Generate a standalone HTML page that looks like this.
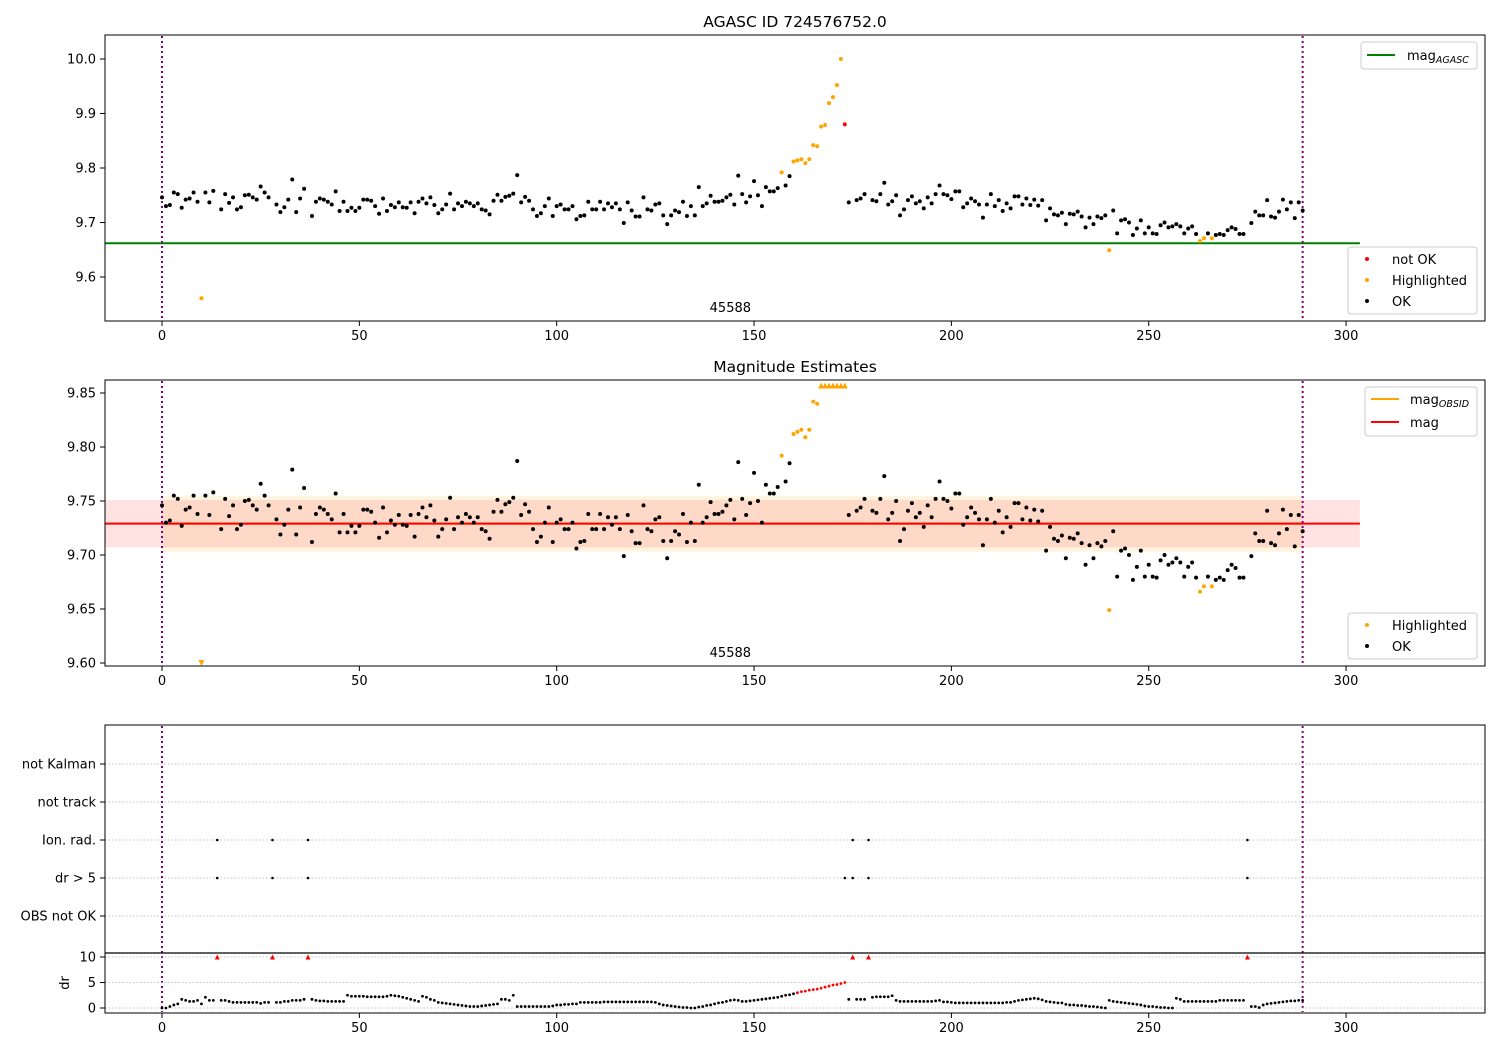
<!DOCTYPE html>
<html><head><meta charset="utf-8"><style>
html,body{margin:0;padding:0;background:#fff;}
svg{display:block;font-family:"DejaVu Sans","Liberation Sans",sans-serif;}
</style></head><body>
<svg id="fig" width="1500" height="1050" viewBox="0 0 1500 1050" xmlns="http://www.w3.org/2000/svg"></svg>
<script>
// ---------- DATA ----------
const mag = [9.746,9.730,9.732,9.755,9.752,9.727,9.742,9.744,9.755,9.738,
9.561,9.755,9.737,9.758,null,9.724,9.752,9.736,9.746,9.724,
9.728,9.750,9.751,9.746,9.742,9.766,9.755,9.746,null,9.733,
9.719,9.728,9.742,9.779,9.719,9.744,9.762,null,9.712,9.738,
9.744,9.742,9.738,9.733,9.757,9.721,9.738,9.721,9.727,9.721,
9.727,9.742,9.742,9.740,9.730,9.716,9.744,9.721,9.732,9.728,
9.737,9.728,9.727,9.737,9.717,9.738,9.744,9.735,9.746,9.732,
9.717,9.724,9.733,9.753,9.724,9.735,9.730,9.738,9.735,9.730,
9.735,9.724,9.722,9.715,9.740,9.751,9.740,9.747,9.749,9.753,
9.787,9.737,9.747,9.740,9.724,9.712,9.717,9.730,9.744,9.712,
9.730,9.733,9.724,9.724,9.730,9.706,9.712,9.713,9.738,9.724,
9.724,9.738,9.724,9.735,9.728,9.735,9.724,9.699,9.737,9.722,
9.711,9.711,9.746,9.724,9.722,9.733,9.735,9.713,9.697,9.713,
9.722,9.719,9.738,9.712,9.730,9.713,9.765,9.730,9.735,9.749,
9.738,9.738,9.740,9.746,9.751,9.733,9.786,9.752,9.737,9.748,
9.776,9.750,9.730,9.765,9.757,9.757,9.763,9.792,9.768,9.785,
9.812,9.814,9.816,9.809,9.816,9.842,9.840,9.876,9.879,9.919,
9.930,9.952,10.0,9.880,9.737,null,9.741,9.744,9.752,null,
9.741,9.739,9.752,9.773,9.733,9.739,9.750,9.713,9.724,9.741,
9.748,9.735,9.739,9.726,9.746,9.735,9.752,9.768,9.752,9.750,
9.743,9.757,9.757,9.728,9.735,9.744,9.739,9.733,9.709,9.733,
9.752,9.730,9.741,9.721,9.735,9.726,9.748,9.748,9.733,9.744,
9.732,9.742,9.731,9.741,9.704,9.726,9.715,9.713,9.718,9.697,
9.716,9.715,9.720,9.711,9.691,9.709,9.697,9.711,9.708,9.713,
9.649,9.722,9.680,9.704,9.706,9.700,9.677,9.689,9.704,9.680,
9.691,9.680,9.679,9.695,9.700,9.691,9.693,9.697,9.693,9.680,
9.689,9.693,9.679,9.666,9.671,9.680,9.671,9.677,9.679,9.677,
9.686,9.691,9.688,9.679,9.679,null,9.699,9.720,9.713,9.713,
9.741,9.711,9.709,9.720,9.742,9.724,9.737,9.708,9.737,9.722];
const highlightedIdx = [10,157,160,161,162,163,164,165,166,167,168,169,170,171,172,240,263,264,266];
const notOkIdx = [173];
const dr = [0,0,0.3,0.6,0.8,1.7,1.5,1.3,1.3,1.5,
0.8,2.1,1.5,1.5,12,1.5,1.5,1.3,1.1,1.1,
1.1,1.1,1.1,1.1,1.1,0.9,1.1,1.1,12,1.1,
1.1,1.3,1.3,1.5,1.5,1.5,1.7,12,1.7,1.5,
1.4,1.4,1.3,1.3,1.3,1.3,1.3,2.5,2.3,2.3,
2.3,2.3,2.2,2.2,2.2,2.2,2.2,2.3,2.5,2.4,
2.3,2.1,1.9,1.7,1.5,1.3,2.3,2.1,1.7,1.5,
1.1,1.0,0.9,0.8,0.7,0.6,0.5,0.4,0.3,0.3,
0.3,0.4,0.5,0.6,0.7,0.8,1.7,1.7,1.5,2.5,
0.3,0.3,0.3,0.3,0.3,0.3,0.3,0.3,0.3,0.4,
0.6,0.6,0.7,0.7,0.8,0.8,1.1,1.1,1.1,1.1,
1.1,1.1,1.2,1.2,1.2,1.2,1.2,1.2,1.2,1.2,
1.2,1.2,1.2,1.2,1.2,1.1,0.8,0.6,0.5,0.4,
0.3,0.2,0.1,0.1,0,0,0.2,0.3,0.5,0.6,
0.8,1.0,1.1,1.3,1.5,1.6,1.5,1.3,1.3,1.4,
1.5,1.6,1.7,1.8,1.9,2.0,2.1,2.3,2.5,2.6,
2.8,3.0,3.2,3.3,3.5,3.6,3.7,3.9,4.1,4.3,
4.5,4.6,4.8,5.0,1.7,12,1.7,1.7,1.7,12,
2.1,2.2,2.2,2.2,2.2,2.4,1.5,1.3,1.3,1.3,
1.3,1.3,1.3,1.3,1.3,1.3,1.4,1.5,1.2,1.2,
1.1,1.0,1.0,1.0,1.0,1.0,1.0,1.0,1.0,1.0,
1.0,1.0,1.0,1.0,1.1,1.1,1.3,1.5,1.6,1.7,
1.8,1.9,1.8,1.6,1.3,1.2,1.1,1.0,1.0,0.7,
0.6,0.6,0.5,0.5,0.4,0.3,0.3,0.2,0.1,0,
1.5,1.3,1.2,1.1,1.0,0.9,0.8,0.7,0.6,0.4,
0.3,0.3,0.2,0.1,0.1,0,0,1.9,1.7,1.3,
1.3,1.3,1.3,1.3,1.3,1.3,1.3,1.3,1.5,1.5,
1.5,1.5,1.5,1.5,1.5,12,0.3,0.3,0.1,0.6,
0.8,0.9,1.0,1.1,1.2,1.3,1.4,1.4,1.5,1.5];
const drBadIdx = [161,162,163,164,165,166,167,168,169,170,171,172,173];
const ionRadIdx = [14,28,37,175,179,275];
const dr5Idx = [14,28,37,173,175,179,275];
const flagCategories = ["not Kalman","not track","Ion. rad.","dr > 5","OBS not OK"];
const xTicks = [0,50,100,150,200,250,300];
const y1Ticks = [9.6,9.7,9.8,9.9,10.0];
const y2Ticks = [9.60,9.65,9.70,9.75,9.80,9.85];
const drTicks = [0,5,10];
const magAgasc = 9.662;
const magObs = 9.729, magObsBand = [9.707, 9.751];
const magObsid = 9.729, magObsidBand = [9.703, 9.755];
const obsStart = 0, obsEnd = 289;
const obsidLabel = "45588";

// ---------- HELPERS ----------
const NS = "http://www.w3.org/2000/svg";
const svg = document.getElementById('fig');
function el(tag, attrs, parent, text){
  const e = document.createElementNS(NS, tag);
  for (const k in attrs) e.setAttribute(k, attrs[k]);
  if (text !== undefined) e.textContent = text;
  (parent || svg).appendChild(e);
  return e;
}
const L = 105, R = 1485;
const xMin = -14.44, xMax = 335.2;
const xs = v => L + (v - xMin) / (xMax - xMin) * (R - L);
function linY(d0, d1, p0, p1){ return v => p0 + (v - d0) / (d1 - d0) * (p1 - p0); }

const y1 = linY(9.6, 10.0, 277, 59);
const y2 = linY(9.60, 9.85, 663, 393);
const yDr = linY(0, 10, 1008, 957);
const catY = [764, 802, 840, 878, 916];

function xAxis(bottom, name){
  const g = el('g', {});
  
  
  xTicks.forEach(t => {
    const x = xs(t);
    el('line', {x1:x, x2:x, y1:bottom, y2:bottom+5, stroke:'#000', 'stroke-width':1}, g);
    el('text', {x:x, y:bottom+19, 'font-size':13, 'text-anchor':'middle'}, g, String(t));
  });
}
function yTick(g, y, label){
  el('line', {x1:L-5, x2:L, y1:y, y2:y, stroke:'#000', 'stroke-width':1}, g);
  el('text', {x:L-9, y:y+4.5, 'font-size':13, 'text-anchor':'end'}, g, label);
}
function frame(top, bottom, name){
  const r = el('rect', {x:L, y:top, width:R-L, height:bottom-top, fill:'none', stroke:'#000', 'stroke-width':1});
  
  
}
function vlines(top, bottom, g){
  [obsStart, obsEnd].forEach(v => {
    el('line', {x1:xs(v), x2:xs(v), y1:top, y2:bottom, stroke:'#800080', 'stroke-width':2, 'stroke-dasharray':'2,3'}, g);
  });
}
function colorOf(i){
  if (notOkIdx.includes(i)) return 'red';
  if (highlightedIdx.includes(i)) return 'orange';
  return 'black';
}
function legendBox(x, y, w, h, name){
  const g = el('g', {});
  
  
  el('rect', {x:x, y:y, width:w, height:h, rx:3, fill:'#fff', 'fill-opacity':0.85, stroke:'#ccc'}, g);
  return g;
}

// ---------- TITLES ----------
const t1 = el('text', {x:795, y:27, 'font-size':15.5, 'text-anchor':'middle'}, svg, 'AGASC ID 724576752.0');


const t2 = el('text', {x:795, y:372, 'font-size':15.5, 'text-anchor':'middle'}, svg, 'Magnitude Estimates');



// ---------- PANEL 1 ----------
{
  const g = el('g', {});
  
  
  y1Ticks.forEach(t => yTick(g, y1(t), t.toFixed(1)));
  el('line', {x1:L, x2:xs(303.5), y1:y1(magAgasc), y2:y1(magAgasc), stroke:'green', 'stroke-width':2}, g);
  vlines(36, 320, g);
  mag.forEach((m, i) => {
    if (m === null) return;
    const c = el('circle', {cx:xs(i), cy:y1(m), r:2, fill:colorOf(i)}, g);
    
    
  });
  el('text', {x:xs(144), y:312, 'font-size':13, 'text-anchor':'middle'}, g, obsidLabel);
  frame(35, 321, 'agasc-axes-frame');
  xAxis(321, 'agasc-x-axis');
  const lg = legendBox(1361, 42, 116, 27, 'agasc-legend');
  el('line', {x1:1367, x2:1395, y1:55, y2:55, stroke:'green', 'stroke-width':2}, lg);
  const tt = el('text', {x:1407, y:60, 'font-size':13}, lg);
  el('tspan', {}, tt, 'mag');
  el('tspan', {'font-size':9.5, 'font-style':'italic', dy:3}, tt, 'AGASC');
  const lg2 = legendBox(1348, 247, 129, 67, 'status-legend');
  [['red','not OK',259],['orange','Highlighted',280],['black','OK',301]].forEach(([c,t,y]) => {
    el('circle', {cx:1367, cy:y, r:2, fill:c}, lg2);
    el('text', {x:1392, y:y+5, 'font-size':13}, lg2, t);
  });
}

// ---------- PANEL 2 ----------
{
  const g = el('g', {});
  
  
  el('rect', {x:xs(obsStart), y:y2(magObsidBand[1]), width:xs(obsEnd)-xs(obsStart), height:y2(magObsidBand[0])-y2(magObsidBand[1]), fill:'#ffa500', 'fill-opacity':0.12}, g);
  el('rect', {x:L, y:y2(magObsBand[1]), width:xs(303.5)-L, height:y2(magObsBand[0])-y2(magObsBand[1]), fill:'#ff0000', 'fill-opacity':0.11}, g);
  el('line', {x1:xs(obsStart), x2:xs(obsEnd), y1:y2(magObsid), y2:y2(magObsid), stroke:'orange', 'stroke-width':2}, g);
  el('line', {x1:L, x2:xs(303.5), y1:y2(magObs), y2:y2(magObs), stroke:'red', 'stroke-width':2}, g);
  y2Ticks.forEach(t => yTick(g, y2(t), t.toFixed(2)));
  vlines(381, 665, g);
  const top = 9.857, bot = 9.600;
  mag.forEach((m, i) => {
    if (m === null) return;
    const c = colorOf(i) === 'black' ? 'black' : 'orange';
    const x = xs(i);
    let e;
    if (m > top) {
      const y = y2(top);
      e = el('polygon', {points:`${x-3},${y+3} ${x+3},${y+3} ${x},${y-3}`, fill:c}, g);
    } else if (m < bot) {
      const y = y2(bot);
      e = el('polygon', {points:`${x-3},${y-3} ${x+3},${y-3} ${x},${y+3}`, fill:c}, g);
    } else {
      e = el('circle', {cx:x, cy:y2(m), r:2, fill:c}, g);
    }
    
    
  });
  el('text', {x:xs(144), y:657, 'font-size':13, 'text-anchor':'middle'}, g, obsidLabel);
  frame(380, 666, 'estimates-axes-frame');
  xAxis(666, 'estimates-x-axis');
  const lg = legendBox(1365, 387, 112, 49, 'mag-legend');
  el('line', {x1:1371, x2:1399, y1:399, y2:399, stroke:'orange', 'stroke-width':2}, lg);
  const tt = el('text', {x:1410, y:404, 'font-size':13}, lg);
  el('tspan', {}, tt, 'mag');
  el('tspan', {'font-size':9.5, 'font-style':'italic', dy:3}, tt, 'OBSID');
  el('line', {x1:1371, x2:1399, y1:422, y2:422, stroke:'red', 'stroke-width':2}, lg);
  el('text', {x:1410, y:427, 'font-size':13}, lg, 'mag');
  const lg2 = legendBox(1348, 613, 129, 46, 'estimates-status-legend');
  [['orange','Highlighted',625],['black','OK',646]].forEach(([c,t,y]) => {
    el('circle', {cx:1367, cy:y, r:2, fill:c}, lg2);
    el('text', {x:1392, y:y+5, 'font-size':13}, lg2, t);
  });
}

// ---------- PANEL 3 (flags) ----------
{
  const g = el('g', {});
  
  
  flagCategories.forEach((c, k) => {
    const y = catY[k];
    el('line', {x1:L, x2:R, y1:y, y2:y, stroke:'#b0b0b0', 'stroke-width':0.8, 'stroke-dasharray':'1.5,2'}, g);
    yTick(g, y, c);
  });
  vlines(726, 1012, g);
  ionRadIdx.forEach(i => {
    const c = el('circle', {cx:xs(i), cy:catY[2], r:1.3, fill:'#000'}, g);
    
    
  });
  dr5Idx.forEach(i => {
    const c = el('circle', {cx:xs(i), cy:catY[3], r:1.3, fill:'#000'}, g);
    
    
  });
  frame(725, 953, 'flags-axes-frame');

  // dr sub-panel
  const g2 = el('g', {});
  
  
  drTicks.forEach(t => {
    el('line', {x1:L, x2:R, y1:yDr(t), y2:yDr(t), stroke:'#b0b0b0', 'stroke-width':0.8, 'stroke-dasharray':'1.5,2'}, g2);
    yTick(g2, yDr(t), String(t));
  });
  const yl = el('text', {x:0, y:0, 'font-size':13, 'text-anchor':'middle', transform:`translate(69,983) rotate(-90)`}, g2, 'dr');
  
  
  dr.forEach((d, i) => {
    const x = xs(i);
    const c = drBadIdx.includes(i) || d > 10 ? 'red' : 'black';
    let e;
    if (d > 10) {
      const y = yDr(10);
      e = el('polygon', {points:`${x-2.5},${y+2.5} ${x+2.5},${y+2.5} ${x},${y-2.5}`, fill:c}, g2);
    } else {
      e = el('circle', {cx:x, cy:yDr(d), r:1.4, fill:c}, g2);
    }
    
    
  });
  el('line', {x1:L, x2:R, y1:953, y2:953, stroke:'#000', 'stroke-width':1.2}, g2);
  frame(953, 1013, 'dr-axes-frame');
  xAxis(1013, 'dr-x-axis');
}
</script>
</body></html>
